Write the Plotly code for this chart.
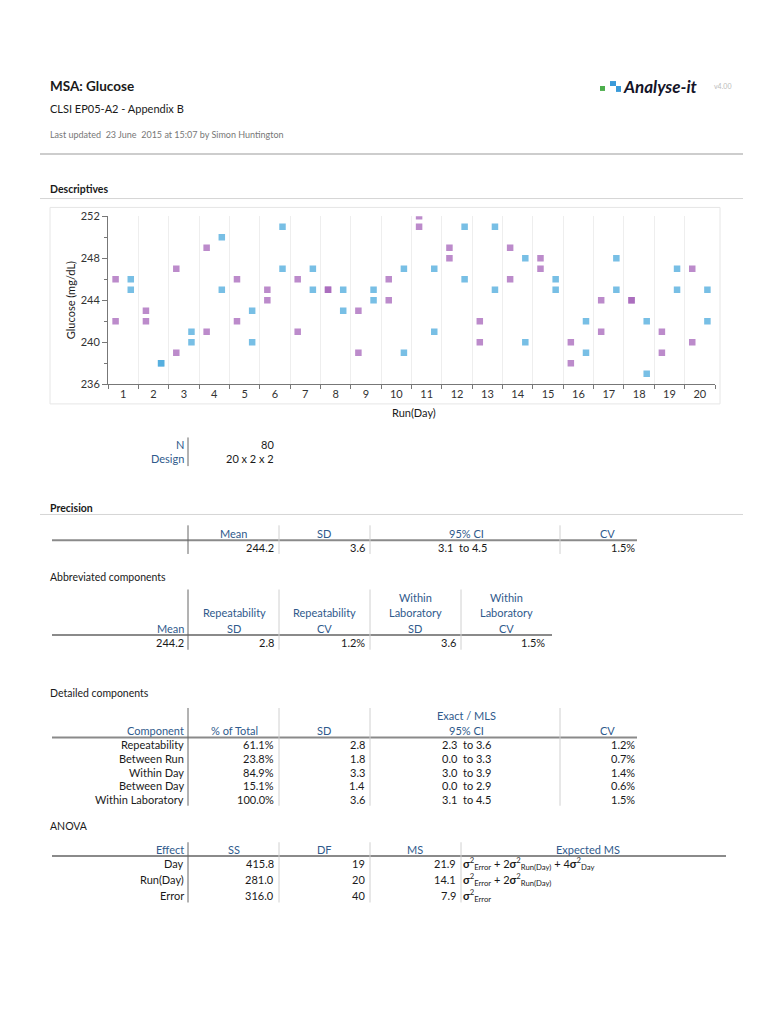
import plotly.graph_objects as go

# ---------------- data ----------------
days = list(range(1, 21))
day_labels = [str(d) for d in days]
run1_rep1 = [246, 243, 247, 249, 246, 245, 246, 245, 243, 246, 252, 249, 242, 249, 248, 240, 244, 244, 241, 247]
run1_rep2 = [242, 242, 239, 241, 242, 244, 241, 245, 239, 244, 251, 248, 240, 246, 247, 238, 241, 244, 239, 240]
run2_rep1 = [246, 238, 241, 250, 243, 251, 247, 245, 245, 247, 247, 251, 251, 248, 246, 242, 248, 242, 247, 245]
run2_rep2 = [245, 238, 240, 245, 240, 247, 245, 243, 244, 239, 241, 246, 245, 240, 245, 239, 245, 237, 245, 242]
y_ticks = [236, 240, 244, 248, 252]

desc_labels = ["N", "Design"]
desc_values = ["80", "20 x 2 x 2"]

prec_headers = ["Mean", "SD", "95% CI", "CV"]
prec_values = ["244.2", "3.6", "3.1  to 4.5", "1.5%"]

abbr_headers = [["", "Repeatability", "SD"], ["", "Repeatability", "CV"],
                ["Within", "Laboratory", "SD"], ["Within", "Laboratory", "CV"]]
abbr_values = ["244.2", "2.8", "1.2%", "3.6", "1.5%"]

det_components = ["Repeatability", "Between Run", "Within Day", "Between Day", "Within Laboratory"]
det_pct = ["61.1%", "23.8%", "84.9%", "15.1%", "100.0%"]
det_sd = ["2.8", "1.8", "3.3", "1.4", "3.6"]
det_ci = ["2.3  to 3.6", "0.0  to 3.3", "3.0  to 3.9", "0.0  to 2.9", "3.1  to 4.5"]
det_cv = ["1.2%", "0.7%", "1.4%", "0.6%", "1.5%"]

anova_effects = ["Day", "Run(Day)", "Error"]
anova_ss = ["415.8", "281.0", "316.0"]
anova_df = ["19", "20", "40"]
anova_ms = ["21.9", "14.1", "7.9"]
anova_ems = [
    "<b>σ</b><sup>2</sup><sub>Error</sub> + 2<b>σ</b><sup>2</sup><sub>Run(Day)</sub> + 4<b>σ</b><sup>2</sup><sub>Day</sub>",
    "<b>σ</b><sup>2</sup><sub>Error</sub> + 2<b>σ</b><sup>2</sup><sub>Run(Day)</sub>",
    "<b>σ</b><sup>2</sup><sub>Error</sub>",
]

# ---------------- helpers ----------------
W, H = 768, 1024
FONT = "Lato"
BLUE_TXT = "#2f5a8c"
DARK = "#1a1a1a"


def px(x):
    return x / W


def py(y):
    return 1 - y / H


annotations = []
shapes = []


def text(x, y, s, size=11, color=DARK, anchor="left", bold=False, italic=False, family=FONT):
    if bold:
        s = "<b>" + s + "</b>"
    if italic:
        s = "<i>" + s + "</i>"
    annotations.append(dict(x=px(x), y=py(y), xref="paper", yref="paper", text=s,
                            showarrow=False, xanchor=anchor, yanchor="middle",
                            font=dict(size=size, color=color, family=family)))


def hline(x0, x1, y, color="#cccccc", width=1):
    shapes.append(dict(type="line", xref="paper", yref="paper", x0=px(x0), x1=px(x1),
                       y0=py(y), y1=py(y), line=dict(color=color, width=width)))


def vline(x, y0, y1, color="#d0d0d0", width=1):
    shapes.append(dict(type="line", xref="paper", yref="paper", x0=px(x), x1=px(x),
                       y0=py(y0), y1=py(y1), line=dict(color=color, width=width)))


def rect(x0, y0, x1, y1, fill, line=None):
    shapes.append(dict(type="rect", xref="paper", yref="paper", x0=px(x0), x1=px(x1),
                       y0=py(y1), y1=py(y0), fillcolor=fill,
                       line=dict(width=0 if line is None else 1, color=line or fill)))


# ---------------- figure / chart ----------------
fig = go.Figure()
x_run1 = [d - 0.25 for d in days]
x_run2 = [d + 0.25 for d in days]
purple = "rgba(165,100,185,0.75)"
blue = "rgba(75,170,220,0.75)"
for xs, ys, col in [(x_run1, run1_rep1, purple), (x_run1, run1_rep2, purple),
                    (x_run2, run2_rep1, blue), (x_run2, run2_rep2, blue)]:
    fig.add_trace(go.Scatter(x=xs, y=ys, mode="markers", showlegend=False,
                             marker=dict(symbol="square", size=6.5, color=col, line=dict(width=0))))

fig.update_xaxes(domain=[px(108), px(715)], range=[0.5, 20.5],
                 tickmode="array", tickvals=days, ticktext=day_labels,
                 showgrid=False, ticks="", showline=True, linecolor="#777777", linewidth=1,
                 tickfont=dict(size=11, color="#333333", family=FONT), zeroline=False,
                 minor=dict(tickmode="linear", tick0=0.5, dtick=1, showgrid=True,
                            gridcolor="#eeeeee", ticks="outside", ticklen=4, tickcolor="#777777"))
fig.update_yaxes(domain=[py(382), py(212)], range=[236, 252],
                 tickmode="array", tickvals=y_ticks, showgrid=False,
                 ticks="outside", ticklen=5, tickcolor="#777777",
                 showline=True, linecolor="#777777", linewidth=1, zeroline=False,
                 tickfont=dict(size=11, color="#333333", family=FONT),
                 minor=dict(tickmode="linear", tick0=236, dtick=2, ticks="outside",
                            ticklen=3, tickcolor="#777777"))

# chart frame
rect(50, 203, 720, 402, "rgba(0,0,0,0)", line="#e6e6e6")
annotations.append(dict(x=px(70), y=py(297), xref="paper", yref="paper", text="Glucose (mg/dL)",
                        showarrow=False, textangle=-90, xanchor="center", yanchor="middle",
                        font=dict(size=11, color=DARK, family=FONT)))
text(414, 411, "Run(Day)", size=11, anchor="center")

# ---------------- header ----------------
text(48, 80, "MSA: Glucose", size=13.5, bold=True)
text(48, 103, "CLSI EP05-A2 - Appendix B", size=11)
text(48, 129, "Last updated  23 June  2015 at 15:07 by Simon Huntington", size=9, color="#777777")
# logo
rect(600, 80, 605, 85, "#4cae4c")
rect(610, 75, 616, 80, "#3a9ad9")
rect(616, 80, 621, 86, "#3a9ad9")
text(621, 81, "Analyse-it", size=17, bold=True, italic=True, color="#141428")
text(712, 80, "v4.00", size=7, color="#bbbbbb")
hline(40, 743, 149, color="#bdbdbd", width=1.5)

# ---------------- Descriptives ----------------
text(48, 184, "Descriptives", size=10.5, bold=True)
hline(40, 743, 194, color="#d5d5d5")

for i, (lab, val) in enumerate(zip(desc_labels, desc_values)):
    yy = 443 + i * 14.5
    text(186, yy, lab, size=11, color=BLUE_TXT, anchor="right")
    text(276, yy, val, size=11, anchor="right")
vline(188, 436, 465, color="#666666")

# ---------------- Precision ----------------
text(48, 507, "Precision", size=10.5, bold=True)
hline(40, 743, 514, color="#d5d5d5")
prec_centers = [233, 324, 466, 607]
for c, h in zip(prec_centers, prec_headers):
    text(c, 533, h, size=11, color=BLUE_TXT, anchor="center")
text(276, 547, prec_values[0], anchor="right")
text(367, 547, prec_values[1], anchor="right")
text(436, 547, prec_values[2], anchor="left")
text(637, 547, prec_values[3], anchor="right")
hline(52, 637, 540, color="#8a8a8a", width=2)
vline(188, 525, 554, color="#666666")
for xv in [279, 370, 560]:
    vline(xv, 525, 554)

# ---------------- Abbreviated components ----------------
text(48, 577, "Abbreviated components", size=10.5)
abbr_centers = [234, 324, 415, 506]
for c, lines in zip(abbr_centers, abbr_headers):
    for j, s in enumerate(lines):
        if s:
            text(c, 598 + j * 15.5, s, size=11, color=BLUE_TXT, anchor="center")
text(186, 629, "Mean", size=11, color=BLUE_TXT, anchor="right")
value_right = [186, 276, 367, 458, 547]
for xr, v in zip(value_right, abbr_values):
    text(xr, 644, v, anchor="right")
hline(52, 552, 636, color="#8a8a8a", width=2)
vline(188, 590, 651, color="#666666")
for xv in [279, 370, 461]:
    vline(xv, 590, 651)

# ---------------- Detailed components ----------------
text(48, 695, "Detailed components", size=10.5)
text(466, 718, "Exact / MLS", size=11, color=BLUE_TXT, anchor="center")
text(186, 733, "Component", size=11, color=BLUE_TXT, anchor="right")
for c, h in zip([234, 324, 466, 607], ["% of Total", "SD", "95% CI", "CV"]):
    text(c, 733, h, size=11, color=BLUE_TXT, anchor="center")
hline(52, 637, 740, color="#8a8a8a", width=2)
for i in range(len(det_components)):
    yy = 747 + i * 14
    text(186, yy, det_components[i], anchor="right")
    text(276, yy, det_pct[i], anchor="right")
    text(367, yy, det_sd[i], anchor="right")
    text(440, yy, det_ci[i], anchor="left")
    text(637, yy, det_cv[i], anchor="right")
vline(188, 710, 809, color="#666666")
for xv in [279, 370, 560]:
    vline(xv, 710, 809)

# ---------------- ANOVA ----------------
text(48, 830, "ANOVA", size=10.5)
for c, h in zip([234, 324, 415, 588], ["SS", "DF", "MS", "Expected MS"]):
    text(c, 853, h, size=11, color=BLUE_TXT, anchor="center")
text(186, 853, "Effect", size=11, color=BLUE_TXT, anchor="right")
hline(52, 726, 860, color="#8a8a8a", width=2)
for i in range(len(anova_effects)):
    yy = 868 + i * 16
    text(186, yy, anova_effects[i], anchor="right")
    text(276, yy, anova_ss[i], anchor="right")
    text(367, yy, anova_df[i], anchor="right")
    text(458, yy, anova_ms[i], anchor="right")
    text(461, yy, anova_ems[i], anchor="left", size=11)
vline(188, 846, 907, color="#666666")
for xv in [279, 370, 461]:
    vline(xv, 846, 907)

fig.update_layout(width=W, height=H, margin=dict(l=0, r=0, t=0, b=0),
                  paper_bgcolor="white", plot_bgcolor="white",
                  annotations=annotations, shapes=shapes,
                  font=dict(family=FONT, color=DARK))

fig.write_html(
    "out.html",
    config={"displayModeBar": False, "staticPlot": True},
    post_script=(
        "document.documentElement.style.margin='0';"
        "document.body.style.margin='0';document.body.style.padding='0';"
        "document.documentElement.style.overflow='hidden';"
        "var g=document.getElementById('{plot_id}');"
        "g.style.position='fixed';g.style.top='0px';g.style.left='0px';"
    ),
)
